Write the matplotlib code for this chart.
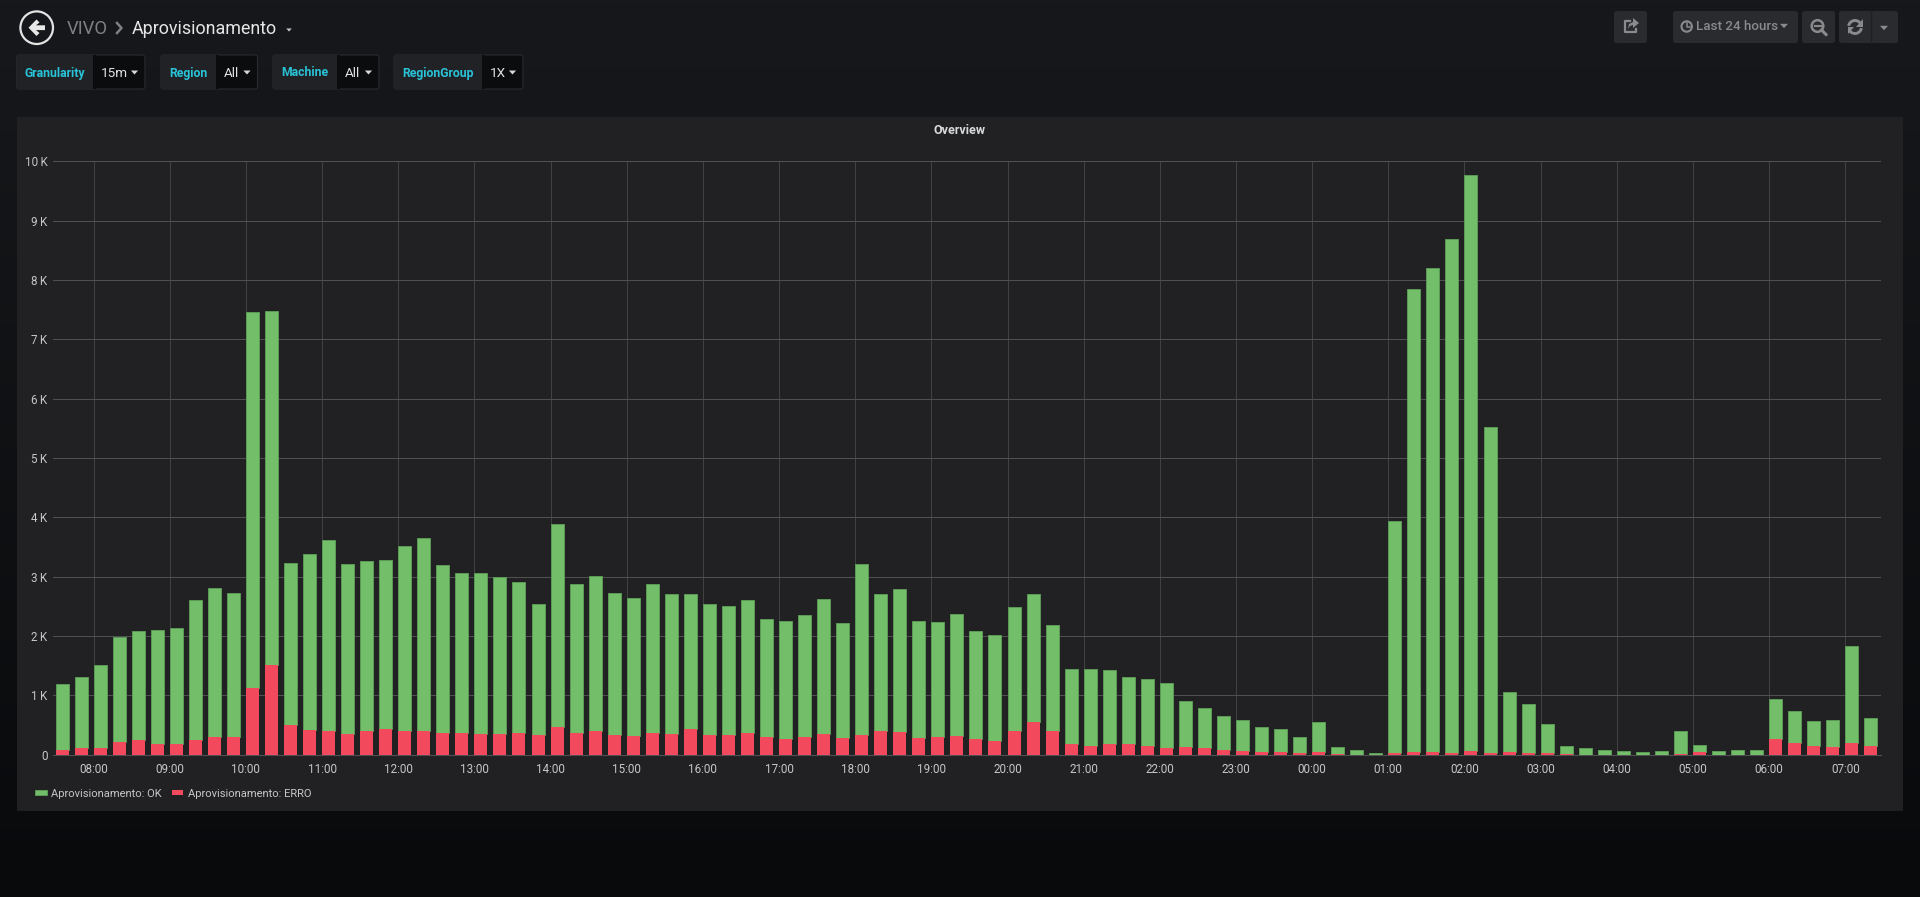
# Grafana style dashboard, stacked OK / ERRO bars per 15 minutes
import numpy as np
import pandas as pd
import matplotlib
matplotlib.use('Agg')
import matplotlib.pyplot as plt
import matplotlib.dates as mdates
from matplotlib.patches import FancyBboxPatch, Circle, Polygon, Arc, Rectangle
from matplotlib.ticker import FuncFormatter

plt.rcParams['font.family'] = ['Roboto', 'DejaVu Sans']

# ----------------------------
# Data
# ----------------------------
erro = [78, 106, 106, 207, 241, 174, 185, 241, 291, 303,
        1115, 1501, 493, 409, 392, 342, 392, 426, 398, 403,
        359, 359, 342, 347, 370, 336, 460, 359, 398, 325,
        309, 359, 342, 437, 331, 336, 365, 303, 269, 297,
        342, 275, 325, 398, 376, 281, 291, 309, 269, 236,
        393, 550, 393, 174, 140, 174, 174, 135, 107, 124,
        112, 84, 62, 39, 34, 22, 39, 11, 0, 0,
        17, 45, 34, 28, 56, 28, 34, 22, 17, 6,
        0, 0, 0, 0, 0, 6, 34, 0, 0, 0,
        253, 191, 135, 124, 202, 135]
ok = [1115, 1205, 1407, 1782, 1837, 1926, 1949, 2364, 2516, 2414,
      6345, 5979, 2739, 2969, 3221, 2868, 2874, 2851, 3115, 3250,
      2840, 2705, 2711, 2645, 2538, 2207, 3428, 2509, 2610, 2392,
      2336, 2515, 2364, 2263, 2212, 2168, 2246, 1989, 1978, 2062,
      2287, 1944, 2883, 2315, 2411, 1966, 1939, 2067, 1815, 1781,
      2101, 2152, 1798, 1275, 1298, 1253, 1135, 1135, 1101, 775,
      675, 568, 528, 422, 393, 281, 517, 118, 79, 22,
      3921, 7805, 8176, 8672, 9714, 5492, 1028, 838, 489, 140,
      107, 73, 62, 45, 56, 393, 123, 56, 79, 84,
      685, 539, 438, 466, 1624, 477]
times = pd.date_range('2018-06-01 07:30', periods=len(ok), freq='15min')
y_ticks = [0, 1000, 2000, 3000, 4000, 5000, 6000, 7000, 8000, 9000, 10000]

# (label, value, label left, label end, box end)
variables = [('Granularity', '15m', 16.5, 93, 145),
             ('Region', 'All', 161, 215.5, 257.5),
             ('Machine', 'All', 273, 337, 379),
             ('RegionGroup', '1X', 394, 481.5, 523)]

W, H = 1920, 897
fig = plt.figure(figsize=(W / 100, H / 100), dpi=100)

# ----------------------------
# Page background, in pixels
# ----------------------------
bg = fig.add_axes([0, 0, 1, 1], zorder=0)
bg.set_xlim(0, W)
bg.set_ylim(H, 0)
bg.axis('off')

top = np.array([0x17, 0x18, 0x1b]) / 255
bottom = np.array([0x09, 0x0a, 0x0c]) / 255
grad = np.linspace(0, 1, 256)[:, None, None] * (bottom - top) + top
bg.imshow(grad, extent=(0, W, H, 0), aspect='auto', zorder=0)
bg.set_xlim(0, W)
bg.set_ylim(H, 0)


def box(x0, y0, x1, y1, color, edge='none', r=2.5):
    bg.add_patch(FancyBboxPatch((x0, y0), x1 - x0, y1 - y0,
                                boxstyle=f'round,pad=0,rounding_size={r}',
                                fc=color, ec=edge, lw=0.8, zorder=1))


def caret(x, y, color, size=3.5):
    bg.add_patch(Polygon([(x - size, y - size * 0.55), (x + size, y - size * 0.55), (x, y + size * 0.55)],
                         closed=True, fc=color, ec='none', zorder=3))


box(17, 117, 1903, 811, '#212124', r=1)

# header
bg.add_patch(Circle((36.7, 27.7), 16.3, fc='none', ec='#e3e3e3', lw=1.6, zorder=3))
bg.add_patch(Polygon([(28.5, 27.7), (36.5, 19.5), (39.5, 22.5), (36, 25.3), (45, 25.3), (45, 30.1),
                      (36, 30.1), (39.5, 33), (36.5, 36)], closed=True, fc='#e8e8e8', ec='none', zorder=3))
bg.text(67, 28.5, 'VIVO', color='#7f8083', fontsize=13.2, va='center', ha='left', zorder=3)
bg.plot([117, 121.5, 117], [23, 28, 33], color='#7f8083', lw=1.8, zorder=3)
bg.text(132, 28.5, 'Aprovisionamento', color='#e6e6e6', fontsize=12.9, va='center', ha='left', zorder=3)
caret(289, 30, '#c8c8c8', 2.8)

# template variables
for name, value, x0, x1, x2 in variables:
    box(x0, 55, x2, 89, '#0b0c0e', edge='#2a2b2e')
    box(x0, 55, x1 + 2, 89, '#212226', r=2.5)
    bg.add_patch(Rectangle((x1, 55.4), 3, 33.2, fc='#0b0c0e', ec='none', zorder=1.5))
    bg.text((x0 + x1) / 2, 73, name, color='#29c3d8', fontsize=8.8, fontweight='bold',
            va='center', ha='center', zorder=3)
    bg.text(x1 + 8, 73.5, value, color='#e3e3e3', fontsize=9.7, va='center', ha='left', zorder=3)
    caret(x2 - 10.5, 72.5, '#d8d8d8', 3.6)

# toolbar
btn = '#2a2b2e'
box(1614, 11, 1647, 43, btn)
box(1673, 11, 1798, 43, btn)
box(1802, 11, 1835, 43, btn)
box(1839, 11, 1898, 43, btn)
bg.plot([1871, 1871], [11, 43], color='#1f2022', lw=1, zorder=2)
grey = '#8a8a8c'
# share icon
bg.plot([1630, 1625, 1625, 1636, 1636], [21, 21, 32, 32, 29], color=grey, lw=1.6, zorder=3)
bg.add_patch(Polygon([(1628, 29), (1629, 24), (1633, 22), (1633, 18), (1639, 23), (1633, 28),
                      (1633, 25), (1630, 26)], closed=True, fc=grey, ec='none', zorder=3))
# clock
bg.add_patch(Circle((1686.7, 26.5), 5.2, fc='none', ec=grey, lw=1.5, zorder=3))
bg.plot([1686.7, 1686.7, 1689.5], [23, 27, 27], color=grey, lw=1.1, zorder=3)
bg.text(1696.5, 27, 'Last 24 hours', color=grey, fontsize=9.6, fontweight='medium', va='center', ha='left', zorder=3)
caret(1784, 26, grey, 4)
# zoom out
bg.add_patch(Circle((1817.5, 26), 5.8, fc='none', ec=grey, lw=1.8, zorder=3))
bg.plot([1821.5, 1826], [30, 34.5], color=grey, lw=2.2, zorder=3)
bg.plot([1814.5, 1820.5], [26, 26], color=grey, lw=1.5, zorder=3)
# refresh
bg.add_patch(Arc((1855, 27), 13, 13, theta1=190, theta2=330, ec=grey, lw=2.1, zorder=3))
bg.add_patch(Arc((1855, 27), 13, 13, theta1=10, theta2=150, ec=grey, lw=2.1, zorder=3))
bg.add_patch(Polygon([(1862.5, 19.5), (1862.5, 27), (1856, 27)], closed=True, fc=grey, ec='none', zorder=3))
bg.add_patch(Polygon([(1847.5, 34.5), (1847.5, 27), (1854, 27)], closed=True, fc=grey, ec='none', zorder=3))
caret(1884, 28, grey, 4)

bg.text(959, 130.5, 'Overview', color='#d8d9da', fontsize=9.0, fontweight='bold', va='center', ha='center', zorder=3)

# ----------------------------
# Chart
# ----------------------------
left, right, y_top, y_bot = 53, 1881, 161.5, 754.5
ax = fig.add_axes([left / W, 1 - y_bot / H, (right - left) / W, (y_bot - y_top) / H], zorder=2)
ax.patch.set_alpha(0)

px_per_day = 76.16 * 24
bar_w = 13 / px_per_day
erro_arr = np.array(erro)
ok_arr = np.array(ok)

b_ok = ax.bar(times, ok_arr, width=bar_w, bottom=erro_arr, align='edge', color='#73bf69',
              edgecolor='#5c9a56', linewidth=0.7, zorder=3, label='Aprovisionamento: OK')
b_erro = ax.bar(times, erro_arr, width=bar_w, align='edge', color='#f2495c',
                edgecolor='none', zorder=4, label='Aprovisionamento: ERRO')

t0 = mdates.date2num(times[0])
ax.set_xlim(t0 - 2.5 / px_per_day, t0 + (right - 55.5) / px_per_day)
ax.set_ylim(0, 10000)
ax.set_yticks(y_ticks)
ax.yaxis.set_major_formatter(FuncFormatter(lambda v, p: '0' if v == 0 else f'{int(v / 1000)}\u2009K'))
ax.xaxis.set_major_locator(mdates.HourLocator())
ax.xaxis.set_major_formatter(mdates.DateFormatter('%H:%M'))

ax.grid(True, axis='y', color='#505052', linewidth=0.75, zorder=1)
ax.grid(True, axis='x', color='#48484a', linewidth=0.6, zorder=1)
ax.set_axisbelow(True)
for s in ax.spines.values():
    s.set_visible(False)
ax.spines['bottom'].set_visible(True)
ax.spines['bottom'].set_color('#505052')
ax.tick_params(axis='both', length=0, colors='#c7c7c9', labelsize=8.4)
ax.tick_params(axis='x', pad=6)
ax.tick_params(axis='y', pad=4)

fig.legend(handles=[b_ok, b_erro], loc='center left', bbox_to_anchor=(35 / W, 1 - 793.5 / H), ncol=2,
           frameon=False, fontsize=8.05, labelcolor='#c7c7c9', borderpad=0, borderaxespad=0,
           handlelength=1.03, handleheight=0.32, handletextpad=0.4, columnspacing=0.9)

plt.savefig('out.png', dpi=100, facecolor='#0b0c0e')
